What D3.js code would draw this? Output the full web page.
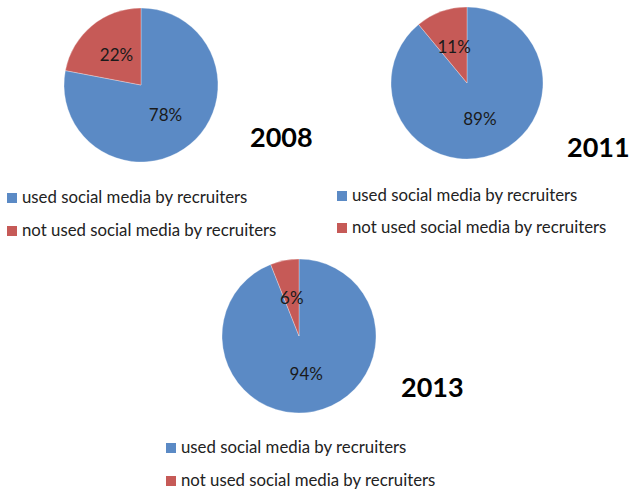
<!DOCTYPE html>
<html>
<head>
<meta charset="utf-8">
<script src="https://cdn.jsdelivr.net/npm/d3@7"></script>
<style>
  html, body { margin: 0; padding: 0; background: #fff; }
  svg { display: block; }
  text { font-family: Lato, "Open Sans", "Liberation Sans", sans-serif; }
</style>
</head>
<body>
<svg id="chart" width="631" height="489"></svg>
<script>
// Survey share of recruiters using social media, by year
const years = ["2008", "2011", "2013"];
const categories = ["used social media by recruiters", "not used social media by recruiters"];
const usedShare = [78, 89, 94];
const notUsedShare = [22, 11, 6];
const colors = ["#5B8AC5", "#C65A57"];

// Panel layout: pie centre/radius, year caption, legend anchor
const panels = [
  { cx: 141, cy: 85,  r: 77, yearX: 250, yearY: 147, legX: 7,   legY: 193, gap: 33 },
  { cx: 467, cy: 83,  r: 76, yearX: 567, yearY: 157, legX: 337, legY: 191, gap: 32 },
  { cx: 299, cy: 336, r: 77, yearX: 401, yearY: 397, legX: 166, legY: 443, gap: 33 }
];

const svg = d3.select("#chart");
const pie = d3.pie().sort(null).value(d => d.value);
const color = d3.scaleOrdinal().domain(categories).range(colors);

years.forEach((year, i) => {
  const p = panels[i];
  const data = [
    { key: categories[0], value: usedShare[i] },
    { key: categories[1], value: notUsedShare[i] }
  ];
  const arc = d3.arc().innerRadius(0).outerRadius(p.r);
  const g = svg.append("g").attr("transform", `translate(${p.cx},${p.cy})`);
  const arcs = pie(data);

  g.selectAll("path")
    .data(arcs)
    .join("path")
    .attr("d", arc)
    .attr("fill", d => color(d.data.key))
    .attr("stroke", "#ffffff")
    .attr("stroke-width", 0.6)
    .attr("stroke-opacity", 0.5);

  g.selectAll("text.pct")
    .data(arcs)
    .join("text")
    .attr("class", "pct")
    .attr("transform", d => `translate(${arc.centroid(d)})`)
    .attr("text-anchor", "middle")
    .attr("dy", "0.35em")
    .attr("font-size", 17)
    .attr("fill", "#1a1a1a")
    .text(d => d.data.value + "%");

  svg.append("text")
    .attr("x", p.yearX)
    .attr("y", p.yearY)
    .attr("font-size", 27)
    .attr("font-weight", 700)
    .attr("fill", "#000")
    .text(year);

  const leg = svg.append("g").attr("transform", `translate(${p.legX},${p.legY})`);
  categories.forEach((c, k) => {
    leg.append("rect")
      .attr("x", 0).attr("y", k * p.gap)
      .attr("width", 10).attr("height", 10)
      .attr("fill", color(c));
    leg.append("text")
      .attr("x", 15).attr("y", k * p.gap + 10)
      .attr("font-size", 16.8)
      .attr("fill", "#222")
      .text(c);
  });
});
</script>
</body>
</html>
